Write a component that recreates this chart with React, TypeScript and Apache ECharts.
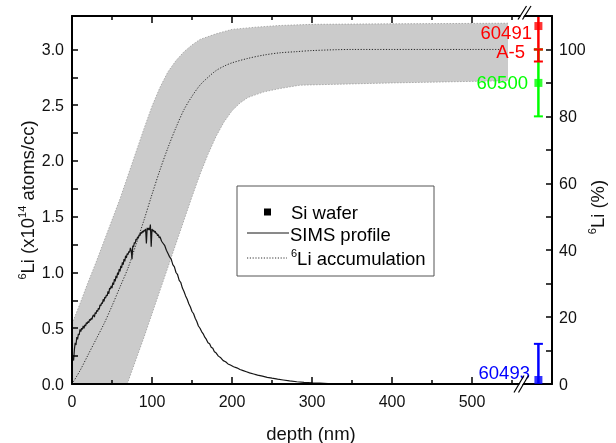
import React, { useEffect, useRef } from 'react';
import * as echarts from 'echarts';

// ---------- data ----------
const simsDepth = [
  0, 1, 2, 3, 4, 5, 6, 7, 8, 9, 10, 11, 12, 13, 14, 15, 16, 17, 18, 19, 20, 21, 22, 23, 24, 25, 26, 27, 28, 29,
  30, 31, 32, 33, 34, 35, 36, 37, 38, 39, 40, 41, 42, 43, 44, 45, 46, 47, 48, 49, 50, 51, 52, 53, 54, 55, 56, 57, 58, 59,
  60, 61, 62, 63, 64, 65, 66, 67, 68, 69, 70, 71, 72, 73, 74, 75, 76, 77, 78, 79, 80, 81, 82, 83, 84, 85, 86, 87, 88, 89,
  90, 91, 92, 93, 94, 95, 96, 97, 98, 99, 100, 101, 102, 103, 104, 105, 106, 107, 108, 109, 110, 112, 114, 116, 118,
  120, 122, 124, 126, 128, 130, 132, 134, 136, 138, 140, 142, 144, 146, 148, 150, 152, 154, 156, 158, 160, 162, 164,
  166, 168, 170, 172, 174, 176, 178, 180, 183, 186, 189, 192, 195, 198, 202, 206, 210, 214, 218, 222, 227, 232, 238,
  244, 250, 257, 264, 272, 281, 290, 300, 310, 320, 335, 350, 370,
];
const simsValue = [
  0.17, 0.24, 0.21, 0.31, 0.37, 0.35, 0.42, 0.40, 0.45, 0.44, 0.49, 0.47, 0.50, 0.49, 0.52, 0.50, 0.53, 0.52, 0.55, 0.54,
  0.56, 0.55, 0.58, 0.57, 0.59, 0.58, 0.61, 0.62, 0.60, 0.64, 0.63, 0.66, 0.65, 0.68, 0.67, 0.71, 0.70, 0.73, 0.72, 0.76,
  0.74, 0.78, 0.77, 0.80, 0.79, 0.83, 0.81, 0.86, 0.85, 0.88, 0.86, 0.91, 0.89, 0.94, 0.92, 0.97, 0.95, 1.00, 0.98, 1.03,
  1.01, 1.06, 1.04, 1.09, 1.07, 1.12, 1.10, 1.15, 1.13, 1.17, 1.16, 1.19, 1.18, 1.22, 1.20, 1.12, 1.24, 1.23, 1.27, 1.26,
  1.30, 1.29, 1.32, 1.31, 1.34, 1.33, 1.36, 1.35, 1.37, 1.36, 1.38, 1.37, 1.39, 1.26, 1.40, 1.38, 1.40, 1.38, 1.43, 1.23,
  1.39, 1.37, 1.38, 1.36, 1.37, 1.35, 1.35, 1.33, 1.34, 1.31, 1.32, 1.28, 1.26, 1.24, 1.20,
  1.17, 1.14, 1.12, 1.07, 1.05, 1.00, 0.98, 0.93, 0.91, 0.86, 0.83, 0.79, 0.76, 0.72, 0.69, 0.65, 0.63, 0.59, 0.56,
  0.52, 0.50, 0.47, 0.45, 0.42, 0.40, 0.37, 0.36, 0.33, 0.32, 0.29, 0.28, 0.25, 0.235, 0.21, 0.2, 0.18, 0.17, 0.155,
  0.145, 0.13, 0.12, 0.11, 0.10, 0.09, 0.08, 0.07, 0.06, 0.052, 0.043, 0.036, 0.028, 0.02, 0.014, 0.01, 0.007, 0.004,
  0.002, 0.001, 0,
];

const accDepth = [0, 10, 20, 30, 40, 50, 60, 70, 80, 90, 100, 110, 120, 130, 140, 150, 160, 170, 180, 190, 200, 220, 240, 260, 280, 300, 350, 400, 450, 500, 535];
const accValue = [0, 0.12, 0.26, 0.40, 0.54, 0.70, 0.87, 1.04, 1.25, 1.47, 1.70, 1.92, 2.12, 2.30, 2.46, 2.58, 2.68, 2.75, 2.81, 2.85, 2.88, 2.92, 2.95, 2.97, 2.98, 2.99, 3.0, 3.0, 3.0, 3.0, 3.0];

const bandUpperDepth = [0, 10, 20, 30, 40, 50, 60, 70, 80, 90, 100, 110, 120, 130, 140, 150, 160, 180, 200, 230, 260, 300, 400, 545];
const bandUpperValue = [0.54, 0.72, 0.91, 1.09, 1.28, 1.47, 1.66, 1.87, 2.08, 2.29, 2.49, 2.66, 2.8, 2.9, 2.98, 3.04, 3.09, 3.14, 3.18, 3.2, 3.215, 3.225, 3.23, 3.235];
const bandLowerDepth = [69, 80, 90, 100, 110, 120, 130, 140, 150, 160, 170, 180, 190, 200, 210, 220, 240, 260, 285, 400, 545];
const bandLowerValue = [0, 0.22, 0.42, 0.63, 0.84, 1.05, 1.26, 1.47, 1.68, 1.88, 2.06, 2.22, 2.35, 2.45, 2.52, 2.57, 2.62, 2.65, 2.68, 2.7, 2.72];

const sampleNames = ['60491', '60500', 'A-5', '60493'];
const sampleDepth = [583, 583, 583, 583];
const sampleValue = [107, 90, 98.2, 1.2];
const sampleLow = [100, 80, 96.4, -9.6];
const sampleHigh = [114, 100, 100, 12];
const sampleHasMarker = [true, true, false, true];
const sampleColors = ['#ff0000', '#00ff00', '#ff0000', '#0000ff'];

const xLabelValues = [0, 100, 200, 300, 400, 500];
const leftTickValues = [0, 0.25, 0.5, 0.75, 1.0, 1.25, 1.5, 1.75, 2.0, 2.25, 2.5, 2.75, 3.0];
const leftLabelValues = [0, 0.5, 1.0, 1.5, 2.0, 2.5, 3.0];
const rightTickValues = [0, 10, 20, 30, 40, 50, 60, 70, 80, 90, 100];
const rightLabelValues = [0, 20, 40, 60, 80, 100];

const X_MAX = 600;
const LEFT_MAX = 3.3;
const RIGHT_MAX = 110;

const FONT = '"Liberation Sans", Arial, Helvetica, sans-serif';
const TXT = '#111';

export default function App() {
  const ref = useRef<HTMLDivElement>(null);
  useEffect(() => {
    if (!ref.current) return;
    const chart = echarts.init(ref.current, null, { renderer: 'svg' });
    const axisLine = { show: true, onZero: false, lineStyle: { color: '#000', width: 2 } };
    const tickStyle = { color: '#000', width: 1.5 };
    const xCommon = {
      type: 'value', min: 0, max: X_MAX, interval: 100, z: 5,
      axisLine,
      axisTick: { show: true, inside: true, length: 7, lineStyle: tickStyle },
      minorTick: { show: true, splitNumber: 2, length: 4, lineStyle: tickStyle },
      splitLine: { show: false }, minorSplitLine: { show: false },
    };
    const option: any = {
      animation: false,
      grid: { left: 72, right: 64, top: 16, bottom: 59, outerBoundsMode: 'none' },
      xAxis: [
        {
          ...xCommon, position: 'bottom',
          axisLabel: { margin: 9, fontSize: 16, color: TXT, fontFamily: FONT, customValues: xLabelValues },
        },
        { ...xCommon, position: 'top', axisLabel: { show: false } },
      ],
      yAxis: [
        {
          type: 'value', position: 'left', min: 0, max: LEFT_MAX, interval: 0.25, z: 5,
          axisLine,
          axisTick: { show: true, inside: true, length: 6, lineStyle: tickStyle, customValues: leftTickValues },
          axisLabel: {
            margin: 8, fontSize: 16, color: TXT, fontFamily: FONT, customValues: leftLabelValues,
            formatter: (v: number) => v.toFixed(1),
          },
          splitLine: { show: false },
        },
        {
          type: 'value', position: 'right', min: 0, max: RIGHT_MAX, interval: 10, z: 5,
          axisLine,
          axisTick: { show: true, inside: true, length: 6, lineStyle: tickStyle, customValues: rightTickValues },
          axisLabel: { margin: 7, fontSize: 16, color: TXT, fontFamily: FONT, customValues: rightLabelValues },
          splitLine: { show: false },
        },
      ],
      series: [
        {
          type: 'custom', name: 'band', silent: true, z: 1,
          data: [[0, 0]],
          renderItem: (params: any, api: any) => {
            if (params.dataIndex !== 0) return null;
            const up = bandUpperDepth.map((d, i) => api.coord([d, bandUpperValue[i]]));
            const lo = bandLowerDepth.map((d, i) => api.coord([d, bandLowerValue[i]]));
            const pts = [...up, ...lo.slice().reverse(), api.coord([0, 0])];
            return {
              type: 'group',
              children: [
                { type: 'polygon', shape: { points: pts, smooth: 0 }, style: { fill: '#cbcbcb' } },
                { type: 'polyline', shape: { points: up }, style: { fill: null, stroke: '#9d9d9d', lineWidth: 0.8, lineDash: [1.5, 1.5] } },
                { type: 'polyline', shape: { points: lo }, style: { fill: null, stroke: '#9d9d9d', lineWidth: 0.8, lineDash: [1.5, 1.5] } },
              ],
            };
          },
        },
        {
          type: 'line', name: 'SIMS profile', showSymbol: false, symbol: 'none', z: 3,
          data: simsDepth.map((d, i) => [d, simsValue[i]]),
          lineStyle: { color: '#151515', width: 1.2 },
        },
        {
          type: 'line', name: '6Li accumulation', showSymbol: false, symbol: 'none', smooth: 0.3, z: 3,
          data: accDepth.map((d, i) => [d, accValue[i]]),
          lineStyle: { color: '#2a2a2a', width: 1, type: [1.2, 1.6] },
        },
        {
          type: 'custom', name: 'errors', xAxisIndex: 0, yAxisIndex: 1, z: 4,
          data: sampleNames.map((n, i) => [sampleDepth[i], sampleLow[i], sampleHigh[i]]),
          renderItem: (params: any, api: any) => {
            const x = api.value(0), lo = api.value(1), hi = api.value(2);
            const p1 = api.coord([x, Math.max(lo, 0)]);
            const p2 = api.coord([x, Math.min(hi, RIGHT_MAX)]);
            const color = sampleColors[params.dataIndex];
            const children: any[] = [
              { type: 'line', shape: { x1: p1[0], y1: p1[1], x2: p2[0], y2: p2[1] }, style: { stroke: color, lineWidth: 2.5 } },
            ];
            const cap = (p: number[]) => ({ type: 'line', shape: { x1: p[0] - 4.5, y1: p[1], x2: p[0] + 4.5, y2: p[1] }, style: { stroke: color, lineWidth: 2 } });
            if (lo >= 0) children.push(cap(p1));
            if (hi <= RIGHT_MAX) children.push(cap(p2));
            return { type: 'group', children };
          },
        },
        {
          type: 'scatter', name: 'Si wafer', xAxisIndex: 0, yAxisIndex: 1, symbol: 'rect', symbolSize: 8, z: 6,
          data: sampleNames
            .map((n, i) => ({ name: n, value: [sampleDepth[i], sampleValue[i]], itemStyle: { color: sampleColors[i] }, show: sampleHasMarker[i] }))
            .filter((d) => d.show)
            .map(({ show, ...rest }) => rest),
        },
      ],
      graphic: [
        // axis names
        {
          type: 'text', x: 27, y: 200, rotation: Math.PI / 2, z: 50,
          style: {
            text: '{s|6}{n|Li (x10}{s|14}{n| atoms/cc)}', align: 'center', verticalAlign: 'middle', fill: TXT,
            rich: {
              s: { fontSize: 11, lineHeight: 11, verticalAlign: 'top', fontFamily: FONT, fill: TXT },
              n: { fontSize: 18.5, lineHeight: 21, fontFamily: FONT, fill: TXT },
            },
          },
        },
        {
          type: 'text', x: 597, y: 207, rotation: Math.PI / 2, z: 50,
          style: {
            text: '{s|6}{n|Li (%)}', align: 'center', verticalAlign: 'middle', fill: TXT,
            rich: {
              s: { fontSize: 11, lineHeight: 11, verticalAlign: 'top', fontFamily: FONT, fill: TXT },
              n: { fontSize: 18.5, lineHeight: 21, fontFamily: FONT, fill: TXT },
            },
          },
        },
        {
          type: 'text', x: 311, y: 433, z: 50,
          style: { text: 'depth (nm)', align: 'center', verticalAlign: 'middle', fontSize: 18.5, fontFamily: FONT, fill: TXT },
        },
        // sample labels
        { type: 'text', x: 532, y: 32, z: 50, style: { text: sampleNames[0], align: 'right', verticalAlign: 'middle', fontSize: 18.5, fontFamily: FONT, fill: sampleColors[0] } },
        { type: 'text', x: 525, y: 51, z: 50, style: { text: sampleNames[2], align: 'right', verticalAlign: 'middle', fontSize: 18.5, fontFamily: FONT, fill: sampleColors[2] } },
        { type: 'text', x: 528, y: 82, z: 50, style: { text: sampleNames[1], align: 'right', verticalAlign: 'middle', fontSize: 18.5, fontFamily: FONT, fill: sampleColors[1] } },
        { type: 'text', x: 530, y: 372, z: 50, style: { text: sampleNames[3], align: 'right', verticalAlign: 'middle', fontSize: 18.5, fontFamily: FONT, fill: sampleColors[3] } },
        // axis break marks
        { type: 'polygon', z: 60, shape: { points: [[515, 392], [524.5, 376], [527.5, 376], [518, 392]] }, style: { fill: '#fff' } },
        { type: 'line', z: 61, shape: { x1: 514, y1: 392.5, x2: 524, y2: 375.5 }, style: { stroke: '#000', lineWidth: 1.2 } },
        { type: 'line', z: 61, shape: { x1: 518.5, y1: 392.5, x2: 528.5, y2: 375.5 }, style: { stroke: '#000', lineWidth: 1.2 } },
        { type: 'polygon', z: 60, shape: { points: [[519, 19], [526.5, 6], [529.5, 6], [522, 19]] }, style: { fill: '#fff' } },
        { type: 'line', z: 61, shape: { x1: 518, y1: 19.5, x2: 526.5, y2: 6 }, style: { stroke: '#000', lineWidth: 1.2 } },
        { type: 'line', z: 61, shape: { x1: 522.5, y1: 19.5, x2: 531, y2: 6 }, style: { stroke: '#000', lineWidth: 1.2 } },
        // legend
        {
          type: 'group', z: 70,
          children: [
            { type: 'rect', shape: { x: 237, y: 186, width: 197, height: 90 }, style: { fill: '#fff', stroke: '#555', lineWidth: 1 } },
            { type: 'rect', shape: { x: 264, y: 208.5, width: 7, height: 7 }, style: { fill: '#000' } },
            { type: 'text', x: 291, y: 212, style: { text: 'Si wafer', align: 'left', verticalAlign: 'middle', fontSize: 18.5, fontFamily: FONT, fill: '#000' } },
            { type: 'line', shape: { x1: 247, y1: 233, x2: 289, y2: 233 }, style: { stroke: '#151515', lineWidth: 1 } },
            { type: 'text', x: 290, y: 234, style: { text: 'SIMS profile', align: 'left', verticalAlign: 'middle', fontSize: 18.5, fontFamily: FONT, fill: '#000' } },
            { type: 'line', shape: { x1: 247, y1: 258, x2: 287, y2: 258 }, style: { stroke: '#333', lineWidth: 1, lineDash: [1.2, 1.6] } },
            {
              type: 'text', x: 291, y: 258,
              style: {
                text: '{s|6}{n|Li accumulation}', align: 'left', verticalAlign: 'middle', fill: '#000',
                rich: {
                  s: { fontSize: 11, lineHeight: 11, verticalAlign: 'top', fontFamily: FONT, fill: '#000' },
                  n: { fontSize: 18.5, lineHeight: 21, fontFamily: FONT, fill: '#000' },
                },
              },
            },
          ],
        },
      ],
    };
    chart.setOption(option);
    return () => chart.dispose();
  }, []);
  return <div ref={ref} style={{ position: 'fixed', left: 0, top: 0, width: 616, height: 443 }} />;
}
